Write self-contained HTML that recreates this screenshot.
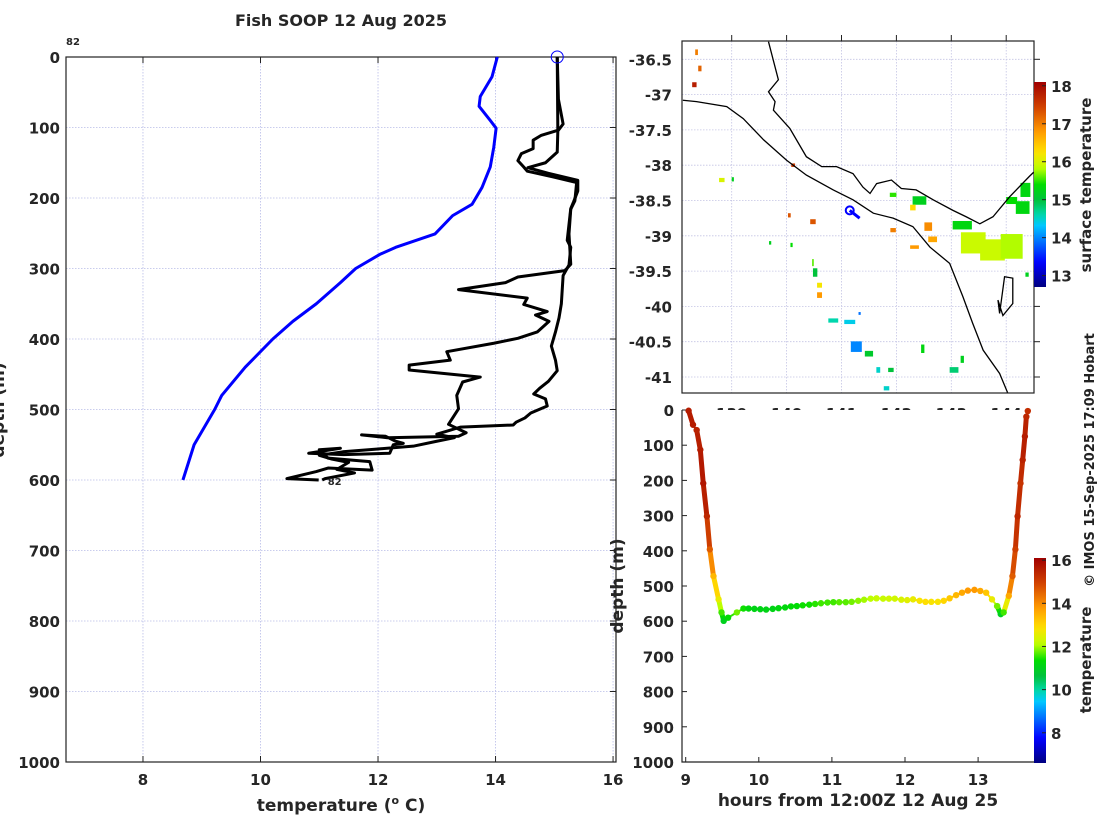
<!DOCTYPE html>
<html><head><meta charset="utf-8"><style>
html,body{margin:0;padding:0;background:#fff;}
svg{display:block;font-family:"DejaVu Sans","Liberation Sans",sans-serif;}
.tk{font-size:15px;font-weight:bold;fill:#262626;}
</style></head><body>
<svg id="c" width="1100" height="820" viewBox="0 0 1100 820">
<defs>
<linearGradient id="jet1" x1="0" y1="1" x2="0" y2="0"></linearGradient>
<linearGradient id="jet2" x1="0" y1="1" x2="0" y2="0"></linearGradient>
</defs>
</svg>
<script>
// ---------- Data ----------
const blueDepth=[0,28,56,70,90,101,128,156,185,209,225,251,270,280,300,320,350,375,400,440,480,500,550,600];
const blueTemp=[14.03,13.94,13.74,13.72,13.91,14.01,13.97,13.91,13.77,13.6,13.27,12.97,12.3,12.03,11.62,11.36,10.95,10.55,10.21,9.74,9.34,9.22,8.87,8.68];
const traceADepth=[0,104,111,118,130,137,147,156,162,170,178,204,216,251,294,303,312,320,330,342,351,361,366,375,390,399,406,418,430,437,444,454,461,480,499,521,533,538,540,536,538,545,548,550,562,564,562,555,557,569,574,586,583,588,598,600];
const traceATemp=[15.05,15.06,14.78,14.64,14.64,14.44,14.38,14.48,14.54,14.98,15.38,15.35,15.28,15.25,15.28,15.18,14.38,14.17,13.37,14.54,14.48,14.88,14.68,14.91,14.71,14.38,13.97,13.17,13.23,12.53,12.53,13.74,13.44,13.34,13.37,13.2,13.5,13.37,12.16,11.72,12.13,12.3,12.43,12.26,12.2,11.42,10.82,11.36,11.0,11.15,11.86,11.9,11.15,10.95,10.45,10.99];
const traceBDepth=[0,60,95,105,135,150,157,165,175,190,205,215,260,270,295,310,350,370,390,410,430,445,460,470,478,485,495,505,512,518,522,525,530,535,540,545,552,556,560,565,570,575,580,585,590,598,600];
const traceBTemp=[15.05,15.07,15.15,15.06,15.05,14.85,14.55,14.9,15.4,15.4,15.33,15.28,15.22,15.28,15.25,15.15,15.12,15.08,15.02,14.95,15.02,15.05,14.9,14.75,14.65,14.85,14.88,14.6,14.5,14.35,14.3,13.4,13.2,13.0,13.3,13.0,12.6,12.0,11.4,11.0,11.2,11.5,11.4,11.3,11.6,11.1,11.05];
const tempTicks=[8,10,12,14,16];
const depthTicks=[0,100,200,300,400,500,600,700,800,900,1000];

const hours=[9.04,9.1,9.15,9.2,9.24,9.29,9.33,9.38,9.45,9.49,9.52,9.58,9.7,9.79,9.86,9.94,10.02,10.1,10.19,10.27,10.36,10.44,10.52,10.6,10.69,10.77,10.85,10.94,11.02,11.1,11.19,11.27,11.36,11.44,11.53,11.61,11.7,11.78,11.86,11.95,12.03,12.11,12.2,12.28,12.36,12.45,12.53,12.61,12.7,12.78,12.86,12.95,13.03,13.11,13.19,13.26,13.31,13.35,13.42,13.47,13.51,13.54,13.58,13.61,13.64,13.66,13.68];
const gliderDepth=[2,42,57,113,208,302,396,472,538,575,599,590,575,564,564,565,566,567,565,563,561,558,557,555,553,551,549,547,546,546,546,545,542,539,536,535,536,536,536,539,540,538,542,545,545,545,542,535,526,519,513,511,514,519,538,557,580,575,528,472,396,302,208,142,75,19,3];
const gliderTemp=[15.6,15.6,15.5,15.6,15.7,15.4,14.6,13.4,12.6,11.6,11.0,11.3,11.8,11.4,11.2,11.1,11.1,11.1,11.1,11.2,11.2,11.3,11.3,11.4,11.4,11.5,11.6,11.6,11.6,11.7,11.7,11.8,11.9,12.0,12.1,12.2,12.2,12.3,12.3,12.4,12.5,12.6,12.8,12.9,12.8,12.8,13.0,13.2,13.4,13.6,13.8,13.8,13.6,13.2,12.6,11.8,11.0,11.6,13.6,14.6,15.0,15.4,15.2,15.5,15.6,15.4,15.3];
const hourTicks=[9,10,11,12,13];

const latTicks=[-36.5,-37,-37.5,-38,-38.5,-39,-39.5,-40,-40.5,-41];
const lonTicks=[139,140,141,142,143,144];
const coastLon=[139.67,139.85,139.67,139.79,139.76,140.06,140.36,140.64,140.91,141.21,141.39,141.52,141.64,141.91,142.09,142.36,142.67,143.03,143.27,143.52,143.76,144.06,144.42,144.5];
const coastLat=[-36.25,-36.79,-36.96,-37.1,-37.22,-37.48,-37.88,-38.02,-38.02,-38.12,-38.31,-38.4,-38.26,-38.21,-38.33,-38.35,-38.49,-38.64,-38.73,-38.83,-38.73,-38.45,-38.16,-38.1];
const isoLon=[138.11,138.36,138.91,139.21,139.58,140.0,140.36,140.85,141.21,141.58,141.94,142.3,142.61,142.97,143.21,143.39,143.58,143.88,144.03];
const isoLat=[-37.08,-37.1,-37.17,-37.34,-37.64,-37.93,-38.14,-38.35,-38.49,-38.68,-38.75,-38.87,-39.16,-39.39,-39.86,-40.24,-40.62,-40.95,-41.23];
const islandLon=[143.88,143.97,144.12,144.12,143.94,143.85,143.88];
const islandLat=[-40.1,-39.58,-39.6,-39.96,-40.13,-39.91,-40.1];
// SST patches: lon, lat (centre), width deg, height deg, temp
const sstLon=[138.36,138.42,138.32,138.82,139.02,140.12,140.05,140.48,140.09,139.7,140.52,140.48,140.6,140.6,140.85,141.15,141.33,141.27,141.5,141.67,141.82,141.94,141.94,142.42,142.3,142.58,142.66,142.33,143.4,143.75,144.1,144.3,143.2,144.1,142.48,143.2,143.05,141.9,144.35,144.38];
const sstLat=[-36.4,-36.63,-36.86,-38.21,-38.2,-38.0,-38.71,-38.8,-39.13,-39.1,-39.52,-39.38,-39.7,-39.84,-40.2,-40.22,-40.1,-40.57,-40.67,-40.9,-41.16,-38.42,-38.92,-38.5,-38.6,-38.87,-39.05,-39.16,-39.1,-39.2,-39.15,-38.6,-38.85,-38.5,-40.6,-40.75,-40.9,-40.9,-38.35,-39.55];
const sstW=[0.05,0.06,0.08,0.1,0.04,0.07,0.05,0.1,0.04,0.04,0.08,0.03,0.09,0.09,0.18,0.2,0.04,0.2,0.15,0.07,0.1,0.12,0.1,0.25,0.1,0.14,0.16,0.16,0.45,0.45,0.4,0.25,0.35,0.2,0.06,0.06,0.16,0.1,0.18,0.06];
const sstH=[0.08,0.08,0.07,0.06,0.06,0.05,0.06,0.07,0.06,0.05,0.12,0.1,0.07,0.08,0.06,0.06,0.04,0.15,0.08,0.08,0.06,0.06,0.06,0.12,0.08,0.12,0.08,0.05,0.3,0.3,0.35,0.18,0.12,0.1,0.12,0.1,0.08,0.06,0.2,0.06];
const sstT=[17.0,17.2,17.8,16.0,15.2,17.5,17.3,17.3,15.4,15.2,15.0,15.6,16.2,16.8,14.6,14.4,13.9,14.0,15.1,14.5,14.5,15.5,17.0,15.2,16.3,16.9,16.7,16.8,15.9,15.9,15.8,15.3,15.3,15.4,15.3,15.2,14.8,15.0,15.3,15.2];

// ---------- Helpers ----------
const svg=document.getElementById('c');
const NS='http://www.w3.org/2000/svg';
function mk(tag,attrs,parent){const e=document.createElementNS(NS,tag);for(const k in attrs)e.setAttribute(k,attrs[k]);(parent||svg).appendChild(e);return e;}
const cmapPos=[0,0.12,0.3,0.36,0.42,0.5,0.58,0.66,0.76,0.88,1];
const cmapRGB=[[0,0,128],[0,0,255],[0,200,255],[0,216,160],[0,192,64],[0,221,0],[192,255,0],[255,224,0],[255,153,0],[208,64,0],[160,0,0]];
function jet(t){t=Math.max(0,Math.min(1,t));let i=0;while(i<cmapPos.length-2&&t>cmapPos[i+1])i++;
  const f=(t-cmapPos[i])/(cmapPos[i+1]-cmapPos[i]);const a=cmapRGB[i],b=cmapRGB[i+1];
  return `rgb(${Math.round(a[0]+(b[0]-a[0])*f)},${Math.round(a[1]+(b[1]-a[1])*f)},${Math.round(a[2]+(b[2]-a[2])*f)})`;}
function grad(id){const g=document.getElementById(id);for(let i=0;i<=40;i++){mk('stop',{offset:(i/40),'stop-color':jet(i/40)},g);}}
grad('jet1');grad('jet2');
function txt(x,y,s,cls,anchor,parent){const t=mk('text',{x:x,y:y,'class':cls||'tk','text-anchor':anchor||'middle'},parent);t.textContent=s;return t;}

// ---------- Title ----------
const title=txt(341,26,'Fish SOOP 12 Aug 2025','tk','middle');
title.setAttribute('style','font-size:16px');



// ---------- Left profile plot ----------
const L={x0:66,x1:616,y0:57,y1:762,tmin:6.69,tmax:16.05};
const lx=t=>L.x0+(t-L.tmin)/(L.tmax-L.tmin)*(L.x1-L.x0);
const ly=d=>L.y0+d/1000*(L.y1-L.y0);
const gL=mk('g',{});


tempTicks.forEach(t=>{const x=lx(t);
  mk('line',{x1:x,y1:L.y0,x2:x,y2:L.y1,stroke:'#b8bce8','stroke-width':0.8,'stroke-dasharray':'1.5,1.5'},gL);
  mk('line',{x1:x,y1:L.y1,x2:x,y2:L.y1-6,stroke:'#222'},gL);mk('line',{x1:x,y1:L.y0,x2:x,y2:L.y0+6,stroke:'#222'},gL);
  txt(x,785,String(t),'tk','middle',gL);});
depthTicks.forEach(d=>{const y=ly(d);
  mk('line',{x1:L.x0,y1:y,x2:L.x1,y2:y,stroke:'#b8bce8','stroke-width':0.8,'stroke-dasharray':'1.5,1.5'},gL);
  mk('line',{x1:L.x1,y1:y,x2:L.x1-6,y2:y,stroke:'#222'},gL);
  txt(L.x0-6,y+6,String(d),'tk','end',gL);});
mk('rect',{x:L.x0,y:L.y0,width:L.x1-L.x0,height:L.y1-L.y0,fill:'none',stroke:'#222','stroke-width':1.2},gL);
function poly(ds,ts,color,w,name){const p=mk('polyline',{points:ds.map((d,i)=>lx(ts[i])+','+ly(d)).join(' '),fill:'none',stroke:color,'stroke-width':w,'stroke-linejoin':'round'},gL);
  }
poly(blueDepth,blueTemp,'#0000ff',3,'climatology-profile-line');
poly(traceADepth,traceATemp,'#000',3,'glider-profile-down');
poly(traceBDepth,traceBTemp,'#000',3,'glider-profile-up');
const sc=mk('circle',{cx:lx(traceATemp[0]),cy:ly(0),r:6,fill:'none',stroke:'#0000ff','stroke-width':1},gL);

const l82a=txt(73,45,'82','','middle',gL);l82a.setAttribute('style','font-size:10px');
const l82b=txt(lx(traceATemp[traceATemp.length-1])+16,485,'82','','middle',gL);l82b.setAttribute('style','font-size:10px');
const xt=txt(341,811,'temperature (','tk','middle',gL);xt.setAttribute('style','font-size:17px');
xt.innerHTML='temperature (<tspan dy="-7" style="font-size:11px">o</tspan><tspan dy="7"> C)</tspan>';

const yt=txt(0,0,'depth (m)','tk','middle',gL);yt.setAttribute('transform','translate(4,410) rotate(-90)');yt.setAttribute('style','font-size:17px');


// ---------- Map ----------
const M={x0:682,x1:1034,y0:41,y1:393};
const mx=lon=>731.7+(lon-139)*54.9;
const my=lat=>59.3+(-36.5-lat)*70.6;
const gM=mk('g',{});


mk('clipPath',{id:'mclip'},gM);
mk('rect',{x:M.x0,y:M.y0,width:M.x1-M.x0,height:M.y1-M.y0},document.getElementById('mclip'));
const gMc=mk('g',{'clip-path':'url(#mclip)'},gM);
lonTicks.forEach(l=>{const x=mx(l);mk('line',{x1:x,y1:M.y0,x2:x,y2:M.y1,stroke:'#c4c4e4','stroke-width':0.8,'stroke-dasharray':'1.5,1.5'},gMc);
  mk('line',{x1:x,y1:M.y0,x2:x,y2:M.y0-6,stroke:'#222'},gM);});
latTicks.forEach(l=>{const y=my(l);mk('line',{x1:M.x0,y1:y,x2:M.x1,y2:y,stroke:'#c4c4e4','stroke-width':0.8,'stroke-dasharray':'1.5,1.5'},gMc);
  mk('line',{x1:M.x1,y1:y,x2:M.x1+6,y2:y,stroke:'#222'},gM);
  txt(M.x0-10,y+6,String(l),'tk','end',gM);});
sstLon.forEach((lon,i)=>{const r=mk('rect',{x:mx(lon-sstW[i]/2),y:my(sstLat[i]+sstH[i]/2),width:sstW[i]*54.9,height:sstH[i]*70.6,fill:jet((sstT[i]-12.7)/(18.1-12.7))},gMc);
  });
function mline(lo,la,name){const p=mk('polyline',{points:lo.map((v,i)=>mx(v)+','+my(la[i])).join(' '),fill:'none',stroke:'#000','stroke-width':1.3},gMc);
  }
mline(coastLon,coastLat,'coastline');mline(isoLon,isoLat,'isobath-line');mline(islandLon,islandLat,'king-island');
const trk=mk('polyline',{points:mx(141.15)+','+my(-38.64)+' '+mx(141.33)+','+my(-38.75),stroke:'#0000ff','stroke-width':3,fill:'none'},gMc);

mk('circle',{cx:mx(141.15),cy:my(-38.64),r:4,fill:'none',stroke:'#0000ff','stroke-width':2},gMc);
mk('rect',{x:M.x0,y:M.y0,width:M.x1-M.x0,height:M.y1-M.y0,fill:'none',stroke:'#222','stroke-width':1.2},gM);
lonTicks.forEach(l=>txt(mx(l),419,String(l),'tk','middle',gM));
// map colorbar
const cb1=mk('rect',{x:1034,y:82,width:12,height:205,fill:'url(#jet1)'},gM);

[13,14,15,16,17,18].forEach(v=>{const y=287-(v-12.7)/(18.1-12.7)*205;mk('line',{x1:1046,y1:y,x2:1042,y2:y,stroke:'#222'},gM);txt(1051,y+6,String(v),'tk','start',gM);});
const st=txt(0,0,'surface temperature','tk','middle',gM);st.setAttribute('transform','translate(1091,185) rotate(-90)');


// ---------- Bottom right: depth vs time ----------
const B={x0:682,x1:1034,y0:410,y1:762};
const bx=h=>685.7+(h-9)*73.1;
const by=d=>B.y0+d/1000*(B.y1-B.y0);
const gB=mk('g',{});


mk('rect',{x:B.x0,y:B.y0,width:B.x1-B.x0,height:B.y1-B.y0,fill:'#fff'},gB);
depthTicks.forEach(d=>{const y=by(d);mk('line',{x1:B.x0,y1:y,x2:B.x0+5,y2:y,stroke:'#222'},gB);txt(B.x0-8,y+6,String(d),'tk','end',gB);});
hourTicks.forEach(h=>{const x=bx(h);mk('line',{x1:x,y1:B.y1,x2:x,y2:B.y1-5,stroke:'#222'},gB);txt(x,785,String(h),'tk','middle',gB);});
const tn=(t)=>jet((t-6.6)/(16.1-6.6));
for(let i=0;i<hours.length-1;i++){mk('line',{x1:bx(hours[i]),y1:by(gliderDepth[i]),x2:bx(hours[i+1]),y2:by(gliderDepth[i+1]),stroke:tn((gliderTemp[i]+gliderTemp[i+1])/2),'stroke-width':(Math.abs(gliderDepth[i+1]-gliderDepth[i])>20?5:2),'stroke-linecap':'round'},gB);}
hours.forEach((h,i)=>{const c=mk('circle',{cx:bx(h),cy:by(gliderDepth[i]),r:3.2,fill:tn(gliderTemp[i])},gB);
  });
mk('polyline',{points:`${B.x0},${B.y0} ${B.x0},${B.y1} ${B.x1},${B.y1}`,fill:'none',stroke:'#222','stroke-width':1.2},gB);
const bxt=txt(858,806,'hours from 12:00Z 12 Aug 25','tk','middle',gB);bxt.setAttribute('style','font-size:17px');

const byt=txt(0,0,'depth (m)','tk','middle',gB);byt.setAttribute('transform','translate(623,586) rotate(-90)');byt.setAttribute('style','font-size:17px');

const cb2=mk('rect',{x:1034,y:558,width:12,height:205,fill:'url(#jet2)'},gB);

[8,10,12,14,16].forEach(v=>{const y=763-(v-6.6)/(16.1-6.6)*205;mk('line',{x1:1046,y1:y,x2:1042,y2:y,stroke:'#222'},gB);txt(1051,y+6,String(v),'tk','start',gB);});
const tt=txt(0,0,'temperature','tk','middle',gB);tt.setAttribute('transform','translate(1091,660) rotate(-90)');

const cr=txt(0,0,'© IMOS 15-Sep-2025 17:09 Hobart','','middle');cr.setAttribute('transform','translate(1094,460) rotate(-90)');cr.setAttribute('style','font-size:13px;fill:#222');

</script>
</body></html>
